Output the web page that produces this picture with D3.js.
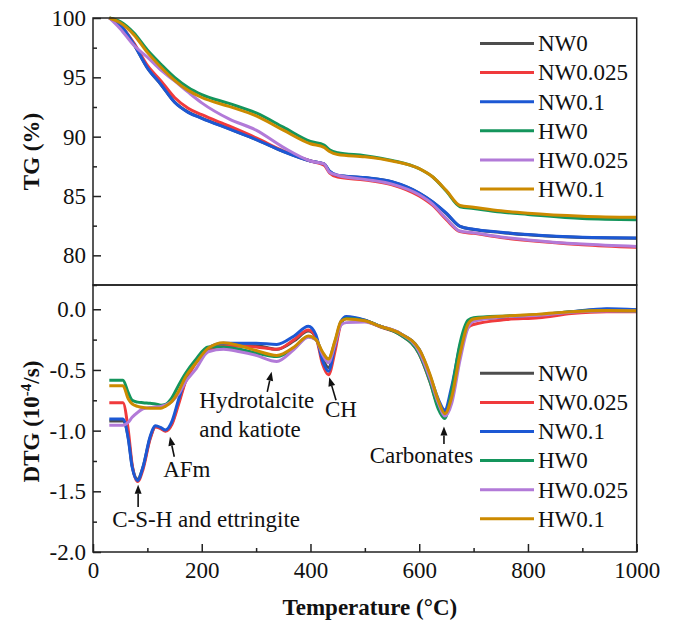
<!DOCTYPE html>
<html>
  <head>
    <meta charset="utf-8">
    <title>TG / DTG</title>
    <script src="https://d3js.org/d3.v7.min.js"></script>
    <style>
      body { margin: 0; background: #fff; }
      text { font-family: "Liberation Serif", "Times New Roman", serif; fill: #111; }
    </style>
  </head>
  <body>
    <script>
      // sample names and colours
      const names = ["NW0", "NW0.025", "NW0.1", "HW0", "HW0.025", "HW0.1"];
      const colors = ["#4d4d4d", "#f03a3c", "#1c58d4", "#14955c", "#b27ad8", "#cc8a00"];

      // TG curves (%)
      const tgTemp = [30, 50, 75, 100, 125, 150, 175, 200, 250, 300, 350, 400, 425, 435, 450, 500, 550, 600, 625, 650, 675, 700, 750, 800, 900, 1000];
      const tgNW0    = [100, 99.4, 97.8, 95.8, 94.4, 92.92, 92.07, 91.57, 90.67, 89.77, 88.76, 87.95, 87.7, 87.08, 86.74, 86.53, 86.18, 85.23, 84.48, 83.52, 82.43, 82.18, 81.93, 81.73, 81.5, 81.45];
      const tgNW0025 = [100, 99.4, 97.9, 96.0, 94.7, 93.3, 92.4, 91.85, 90.9, 89.9, 88.8, 87.95, 87.6, 86.95, 86.6, 86.35, 85.95, 85.0, 84.2, 83.0, 82.0, 81.85, 81.5, 81.25, 80.9, 80.68];
      const tgNW01   = [100, 99.4, 97.8, 95.8, 94.4, 92.9, 92.05, 91.55, 90.65, 89.75, 88.75, 87.95, 87.7, 87.1, 86.75, 86.55, 86.2, 85.25, 84.5, 83.55, 82.45, 82.2, 81.95, 81.75, 81.52, 81.47];
      const tgHW0    = [100, 99.7, 98.75, 97.3, 96.1, 95.0, 94.15, 93.55, 92.8, 92.0, 90.8, 89.6, 89.3, 88.9, 88.65, 88.4, 88.0, 87.3, 86.6, 85.4, 84.1, 83.95, 83.65, 83.45, 83.1, 83.0];
      const tgHW0025 = [100, 99.1, 97.7, 96.7, 95.6, 94.7, 93.75, 92.85, 91.5, 90.55, 89.1, 87.95, 87.7, 87.0, 86.75, 86.4, 86.0, 85.1, 84.3, 83.1, 82.05, 81.9, 81.55, 81.3, 80.95, 80.75];
      const tgHW01   = [100, 99.6, 98.6, 97.1, 95.85, 94.75, 93.9, 93.3, 92.55, 91.75, 90.55, 89.4, 89.1, 88.75, 88.5, 88.3, 87.95, 87.3, 86.6, 85.45, 84.2, 84.05, 83.75, 83.55, 83.3, 83.2];

      // DTG curves (10^-4 /s)
      const dtgTemp = [30, 55, 65, 72, 82, 92, 105, 115, 125, 133, 145, 157, 170, 188, 212, 240, 270, 300, 338, 370, 396, 410, 422, 433, 445, 456, 466, 500, 528, 565, 600, 620, 635, 647, 660, 675, 690, 700, 760, 820, 880, 945, 1000];
      const dtgNW0    = [-0.92, -0.92, -1.06, -1.29, -1.40, -1.30, -1.06, -0.965, -0.98, -1.0, -0.94, -0.77, -0.59, -0.44, -0.33, -0.30, -0.30, -0.30, -0.33, -0.26, -0.18, -0.23, -0.40, -0.48, -0.32, -0.11, -0.07, -0.09, -0.14, -0.2, -0.34, -0.56, -0.76, -0.85, -0.66, -0.32, -0.12, -0.085, -0.065, -0.05, -0.022, 0.0, -0.006];
      const dtgNW0025 = [-0.77, -0.77, -1.0, -1.28, -1.42, -1.32, -1.07, -0.97, -0.985, -1.005, -0.95, -0.79, -0.60, -0.45, -0.34, -0.30, -0.305, -0.31, -0.33, -0.25, -0.17, -0.23, -0.45, -0.54, -0.35, -0.12, -0.07, -0.095, -0.145, -0.21, -0.37, -0.60, -0.80, -0.87, -0.70, -0.36, -0.15, -0.125, -0.085, -0.07, -0.035, -0.02, -0.02];
      const dtgNW01   = [-0.905, -0.905, -1.07, -1.30, -1.41, -1.30, -1.05, -0.96, -0.975, -0.995, -0.925, -0.75, -0.57, -0.43, -0.32, -0.28, -0.28, -0.28, -0.29, -0.22, -0.14, -0.21, -0.42, -0.51, -0.30, -0.10, -0.06, -0.09, -0.14, -0.2, -0.33, -0.55, -0.74, -0.83, -0.63, -0.30, -0.10, -0.075, -0.06, -0.045, -0.02, 0.005, -0.004];
      const dtgHW0    = [-0.585, -0.585, -0.69, -0.75, -0.765, -0.77, -0.775, -0.78, -0.79, -0.785, -0.73, -0.63, -0.53, -0.42, -0.31, -0.31, -0.33, -0.36, -0.39, -0.32, -0.225, -0.25, -0.36, -0.41, -0.27, -0.11, -0.075, -0.095, -0.14, -0.21, -0.37, -0.60, -0.82, -0.90, -0.66, -0.28, -0.09, -0.07, -0.055, -0.045, -0.02, -0.01, -0.015];
      const dtgHW0025 = [-0.955, -0.955, -0.93, -0.89, -0.85, -0.82, -0.81, -0.805, -0.80, -0.79, -0.76, -0.70, -0.60, -0.50, -0.35, -0.33, -0.35, -0.38, -0.43, -0.33, -0.23, -0.25, -0.37, -0.44, -0.29, -0.13, -0.11, -0.105, -0.14, -0.2, -0.35, -0.57, -0.77, -0.88, -0.77, -0.42, -0.15, -0.10, -0.06, -0.05, -0.025, -0.015, -0.015];
      const dtgHW01   = [-0.63, -0.63, -0.74, -0.78, -0.80, -0.81, -0.815, -0.815, -0.815, -0.80, -0.76, -0.68, -0.56, -0.45, -0.32, -0.275, -0.30, -0.34, -0.38, -0.31, -0.22, -0.25, -0.35, -0.41, -0.26, -0.10, -0.08, -0.095, -0.14, -0.2, -0.33, -0.54, -0.75, -0.86, -0.72, -0.37, -0.12, -0.08, -0.055, -0.04, -0.02, -0.01, -0.013];

      const tgSeries = [tgNW0, tgNW0025, tgNW01, tgHW0, tgHW0025, tgHW01];
      const dtgSeries = [dtgNW0, dtgNW0025, dtgNW01, dtgHW0, dtgHW0025, dtgHW01];

      // tick values
      const tgTicks = [80, 85, 90, 95, 100];
      const dtgTicks = [-2.0, -1.5, -1.0, -0.5, 0.0];
      const tempTicks = [0, 200, 400, 600, 800, 1000];

      // peak labels: text, anchor point (T, DTG), arrow tip / tail (T, DTG)
      const notes = [
        {lines: ["C-S-H and ettringite"], t: 208, v: -1.795, anchor: "middle", tip: [83, -1.445], tail: [83, -1.63]},
        {lines: ["AFm"], t: 129, v: -1.38, anchor: "start", tip: [141.5, -1.05], tail: [149.5, -1.215]},
        {lines: ["Hydrotalcite", "and katiote"], t: 195.5, v: -0.815, anchor: "start", tip: [328.5, -0.515], tail: [320.5, -0.68]},
        {lines: ["CH"], t: 426.5, v: -0.884, anchor: "start", tip: [434.5, -0.56], tail: [447, -0.75]},
        {lines: ["Carbonates"], t: 604, v: -1.264, anchor: "middle", tip: [645.5, -0.965], tail: [645.5, -1.11]}
      ];

      const W = 675, H = 626;
      const pLeft = 93, pRight = 636.7, pTop = 18, pMid = 285, pBottom = 552;

      const svg = d3.select("body").append("svg")
        .attr("width", W)
        .attr("height", H);

      const x = d3.scaleLinear().domain([0, 1000]).range([pLeft, pRight]);
      const yTG = d3.scaleLinear().domain([77.5, 100]).range([pMid, pTop]);
      const yDTG = d3.scaleLinear().domain([-2.0, 0.2]).range([pBottom, pMid]);

      const dash = s => s.replace("\u2212", "-");

      // y axes (ticks pointing inward)
      function yAxis(scale, ticks, minor, fmt) {
        svg.append("g")
          .attr("transform", "translate(" + pLeft + ",0)")
          .call(d3.axisLeft(scale).tickValues(minor).tickSize(-4).tickFormat(""))
          .call(g => g.select(".domain").remove())
          .selectAll("line").attr("stroke", "#222").attr("stroke-width", 1.5);
        const g = svg.append("g")
          .attr("transform", "translate(" + pLeft + ",0)")
          .call(d3.axisLeft(scale).tickValues(ticks).tickSize(-8).tickPadding(7).tickFormat(fmt));
        g.select(".domain").remove();
        g.selectAll("line").attr("stroke", "#222").attr("stroke-width", 1.5);
        g.selectAll("text").attr("font-size", 23).attr("font-family", "Liberation Serif").attr("fill", "#111");
      }
      yAxis(yTG, tgTicks, [77.5, 82.5, 87.5, 92.5, 97.5], d3.format("d"));
      yAxis(yDTG, dtgTicks, [-1.75, -1.25, -0.75, -0.25], d => dash(d3.format(".1f")(d)));

      // x axis on bottom panel
      svg.append("g")
        .attr("transform", "translate(0," + pBottom + ")")
        .call(d3.axisBottom(x).tickValues([100, 300, 500, 700, 900]).tickSize(-4).tickFormat(""))
        .call(g => g.select(".domain").remove())
        .selectAll("line").attr("stroke", "#222").attr("stroke-width", 1.5);
      const gx = svg.append("g")
        .attr("transform", "translate(0," + pBottom + ")")
        .call(d3.axisBottom(x).tickValues(tempTicks).tickSize(-8).tickPadding(10).tickFormat(d3.format("d")));
      gx.select(".domain").remove();
      gx.selectAll("line").attr("stroke", "#222").attr("stroke-width", 1.5);
      gx.selectAll("text").attr("font-size", 23).attr("font-family", "Liberation Serif").attr("fill", "#111");

      // curves
      function drawCurves(temps, series, y) {
        const line = d3.line()
          .x((d, i) => x(temps[i]))
          .y(d => y(d))
          .curve(d3.curveMonotoneX);
        series.forEach((s, k) => {
          svg.append("path")
            .datum(s)
            .attr("d", line)
            .attr("fill", "none")
            .attr("stroke", colors[k])
            .attr("stroke-width", 3)
            .attr("stroke-linejoin", "round");
        });
      }
      drawCurves(tgTemp, tgSeries, yTG);
      drawCurves(dtgTemp, dtgSeries, yDTG);

      // panel frames
      [[pTop, pMid], [pMid, pBottom]].forEach(p => {
        svg.append("rect")
          .attr("x", pLeft).attr("y", p[0])
          .attr("width", pRight - pLeft).attr("height", p[1] - p[0])
          .attr("fill", "none").attr("stroke", "#222").attr("stroke-width", 1.5);
      });

      // legends
      function legend(y0) {
        names.forEach((n, k) => {
          const yy = y0 + k * 29.1;
          svg.append("line")
            .attr("x1", 480).attr("x2", 534).attr("y1", yy).attr("y2", yy)
            .attr("stroke", colors[k]).attr("stroke-width", 3);
          svg.append("text")
            .attr("x", 538).attr("y", yy).attr("dy", "0.34em")
            .attr("font-size", 23)
            .text(n);
        });
      }
      legend(43.5);
      legend(373.3);

      // peak annotations
      notes.forEach(n => {
        n.lines.forEach((l, i) => {
          svg.append("text")
            .attr("x", x(n.t))
            .attr("y", yDTG(n.v) + i * 28.5)
            .attr("text-anchor", n.anchor)
            .attr("font-size", 23)
            .text(l);
        });
        const x1 = x(n.tail[0]), y1 = yDTG(n.tail[1]);
        const x2 = x(n.tip[0]), y2 = yDTG(n.tip[1]);
        const a = Math.atan2(y2 - y1, x2 - x1);
        const hl = 9, hw = 3.5;
        const bx = x2 - hl * Math.cos(a), by = y2 - hl * Math.sin(a);
        svg.append("line")
          .attr("x1", x1).attr("y1", y1).attr("x2", bx).attr("y2", by)
          .attr("stroke", "#111").attr("stroke-width", 1.6);
        svg.append("path")
          .attr("d", "M" + x2 + "," + y2 +
            "L" + (bx + hw * Math.sin(a)) + "," + (by - hw * Math.cos(a)) +
            "L" + (bx - hw * Math.sin(a)) + "," + (by + hw * Math.cos(a)) + "Z")
          .attr("fill", "#111");
      });

      // axis titles
      svg.append("text")
        .attr("transform", "translate(39," + ((pTop + pMid) / 2) + ") rotate(-90)")
        .attr("text-anchor", "middle")
        .attr("font-size", 23).attr("font-weight", "bold")
        .text("TG (%)");
      const dt = svg.append("text")
        .attr("transform", "translate(39," + ((pMid + pBottom) / 2 + 3) + ") rotate(-90)")
        .attr("text-anchor", "middle")
        .attr("font-size", 23).attr("font-weight", "bold");
      dt.append("tspan").text("DTG (10");
      dt.append("tspan").attr("baseline-shift", "super").attr("font-size", 15).text("-4");
      dt.append("tspan").text("/s)");

      svg.append("text")
        .attr("x", (pLeft + pRight) / 2 + 5).attr("y", 615)
        .attr("text-anchor", "middle")
        .attr("font-size", 23).attr("font-weight", "bold")
        .text("Temperature (\u00B0C)");
    </script>
  </body>
</html>
